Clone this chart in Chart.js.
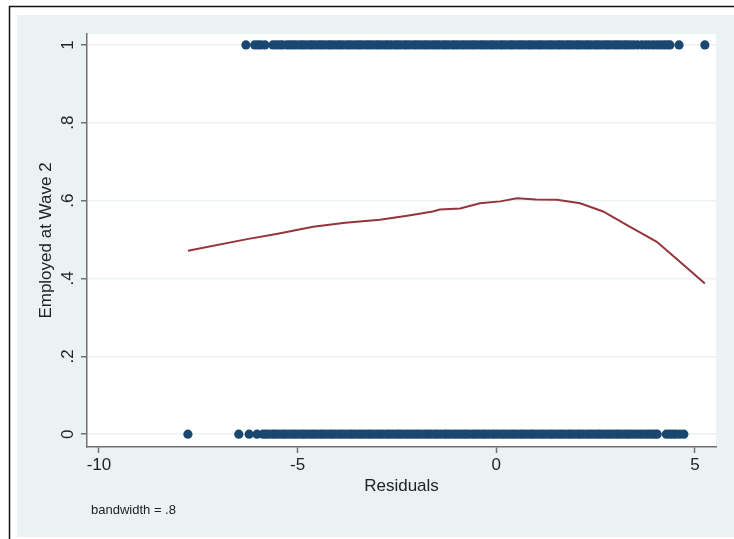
<!DOCTYPE html>
<html>
<head>
<meta charset="utf-8">
<script src="https://cdn.jsdelivr.net/npm/chart.js@4/dist/chart.umd.min.js"></script>
<style>
  body { margin: 0; background: #fff; }
  #wrap { width: 734px; height: 539px; }
</style>
</head>
<body>
<div id="wrap"><canvas id="lowessChart" width="734" height="539"></canvas></div>
<script>
// residuals for people employed at wave 2 (y = 1)
var employedX = [-6.30, -6.08, -6.00, -5.92, -5.82, -5.62, -5.54, -5.45, -5.38,
  -5.27, -5.19, -5.12, -5.04, -4.95, -4.88, -4.80, -4.71, -4.64, -4.56, -4.47, -4.40, -4.32, -4.23,
  -4.16, -4.08, -3.99, -3.92, -3.84, -3.75, -3.68, -3.60, -3.51, -3.44, -3.36, -3.27, -3.20, -3.12,
  -3.03, -2.96, -2.88, -2.79, -2.72, -2.64, -2.55, -2.48, -2.40, -2.31, -2.24, -2.16, -2.07, -2.00,
  -1.92, -1.83, -1.76, -1.68, -1.59, -1.52, -1.44, -1.35, -1.28, -1.20, -1.11, -1.04, -0.96, -0.87,
  -0.80, -0.72, -0.63, -0.56, -0.48, -0.39, -0.32, -0.24, -0.15, -0.08, 0.00, 0.09, 0.16, 0.24,
  0.33, 0.40, 0.48, 0.57, 0.64, 0.72, 0.81, 0.88, 0.96, 1.05, 1.12, 1.20, 1.29, 1.36, 1.44, 1.53,
  1.60, 1.68, 1.77, 1.84, 1.92, 2.01, 2.08, 2.16, 2.25, 2.32, 2.40, 2.49, 2.56, 2.64, 2.73, 2.80,
  2.88, 2.97, 3.04, 3.12, 3.21, 3.28, 3.36, 3.45, 3.55, 3.66, 3.76, 3.85, 3.95, 4.04, 4.13, 4.22,
  4.30, 4.37, 4.60, 5.25];
// residuals for people not employed at wave 2 (y = 0)
var notEmployedX = [-7.76, -6.48, -6.22, -6.02, -5.87,
  -5.80, -5.72, -5.63, -5.56, -5.48, -5.39, -5.32, -5.24, -5.15, -5.08, -5.00, -4.91, -4.84, -4.76,
  -4.67, -4.60, -4.52, -4.43, -4.36, -4.28, -4.19, -4.12, -4.04, -3.95, -3.88, -3.80, -3.71, -3.64,
  -3.56, -3.47, -3.40, -3.32, -3.23, -3.16, -3.08, -2.99, -2.92, -2.84, -2.75, -2.68, -2.60, -2.51,
  -2.44, -2.36, -2.27, -2.20, -2.12, -2.03, -1.96, -1.88, -1.79, -1.72, -1.64, -1.55, -1.48, -1.40,
  -1.31, -1.24, -1.16, -1.07, -1.00, -0.92, -0.83, -0.76, -0.68, -0.59, -0.52, -0.44, -0.35, -0.28,
  -0.20, -0.11, -0.04, 0.04, 0.13, 0.20, 0.28, 0.37, 0.44, 0.52, 0.61, 0.68, 0.76, 0.85, 0.92, 1.00,
  1.09, 1.16, 1.24, 1.33, 1.40, 1.48, 1.57, 1.64, 1.72, 1.81, 1.88, 1.96, 2.05, 2.12, 2.20, 2.29,
  2.36, 2.44, 2.53, 2.60, 2.68, 2.77, 2.84, 2.92, 3.01, 3.08, 3.16, 3.25, 3.32, 3.40, 3.49, 3.58,
  3.66, 3.75, 3.83, 3.91, 3.99, 4.05, 4.28, 4.36, 4.44, 4.52, 4.62, 4.72];
// lowess smooth, bandwidth .8
var lowessX = [-7.76, -6.27, -5.5, -4.61, -3.8, -2.93, -2.2, -1.6, -1.42, -0.91, -0.41, 0.1, 0.52, 1.0, 1.53, 2.11, 2.69, 3.29, 4.04, 4.6, 5.25];
var lowessY = [0.471, 0.501, 0.515, 0.533, 0.543, 0.551, 0.562, 0.572, 0.577, 0.580, 0.593, 0.598, 0.606, 0.603, 0.602, 0.593, 0.572, 0.537, 0.494, 0.445, 0.387];

var xTicks = [-10, -5, 0, 5];
var yTicks = [0, 0.2, 0.4, 0.6, 0.8, 1];
var yTickLabels = ['0', '.2', '.4', '.6', '.8', '1'];

var navy = '#1a476f';
var maroon = '#93363c';
var axisGrey = '#707070';
var font = '"Liberation Sans", Arial, sans-serif';

var pts1 = employedX.map(function (x) { return { x: x, y: 1 }; });
var pts0 = notEmployedX.map(function (x) { return { x: x, y: 0 }; });
var smooth = lowessX.map(function (x, i) { return { x: x, y: lowessY[i] }; });

var stataFrame = {
    id: 'stataFrame',
    beforeDraw: function (chart) {
        var c = chart.ctx, a = chart.chartArea;
        c.save();
        c.fillStyle = '#ffffff';
        c.fillRect(0, 0, chart.width, chart.height);
        c.fillStyle = '#eaf2f3';
        c.fillRect(17, 15, chart.width - 17, 522);
        c.strokeStyle = '#111';
        c.lineWidth = 1.5;
        c.beginPath();
        c.moveTo(9.5, chart.height);
        c.lineTo(9.5, 6.5);
        c.lineTo(chart.width, 6.5);
        c.stroke();
        c.fillStyle = '#ffffff';
        c.fillRect(a.left, a.top, a.right - a.left, a.bottom - a.top);
        c.restore();
    },
    afterDraw: function (chart) {
        var c = chart.ctx, a = chart.chartArea, ys = chart.scales.y;
        c.save();
        c.fillStyle = '#222';
        c.font = '17px ' + font;
        c.textAlign = 'center';
        c.textBaseline = 'middle';
        // rotated y tick labels
        yTicks.forEach(function (v, i) {
            c.save();
            c.translate(68, ys.getPixelForValue(v));
            c.rotate(-Math.PI / 2);
            c.fillText(yTickLabels[i], 0, 0);
            c.restore();
        });
        // axis titles
        c.save();
        c.translate(46, (a.top + a.bottom) / 2);
        c.rotate(-Math.PI / 2);
        c.fillText('Employed at Wave 2', 0, 0);
        c.restore();
        c.fillText('Residuals', (a.left + a.right) / 2, 486);
        // note
        c.textAlign = 'left';
        c.font = '13px ' + font;
        c.fillText('bandwidth = .8', 91, 510);
        c.restore();
    }
};

var ctx = document.getElementById('lowessChart').getContext('2d');
var myChart = new Chart(ctx, {
    type: 'scatter',
    data: {
        datasets: [{
            label: 'Employed at Wave 2',
            data: pts1.concat(pts0),
            backgroundColor: navy,
            borderWidth: 0,
            pointRadius: 4.6,
            order: 2
        }, {
            type: 'line',
            label: 'lowess',
            data: smooth,
            borderColor: maroon,
            borderWidth: 2,
            pointRadius: 0,
            tension: 0,
            fill: false,
            order: 1
        }]
    },
    options: {
        responsive: false,
        animation: false,
        devicePixelRatio: 1,
        layout: { padding: { top: 34, right: 18, left: 0, bottom: 0 } },
        plugins: {
            legend: { display: false },
            tooltip: { enabled: false }
        },
        scales: {
            x: {
                type: 'linear',
                min: -10.3,
                max: 5.53,
                afterFit: function (s) { s.height = 92; },
                afterBuildTicks: function (s) { s.ticks = xTicks.map(function (v) { return { value: v }; }); },
                grid: { drawOnChartArea: false, tickLength: 6, tickColor: axisGrey, tickWidth: 1.5 },
                border: { color: axisGrey, width: 1.5 },
                ticks: {
                    color: '#222',
                    font: { family: font, size: 17 },
                    padding: 2,
                    maxRotation: 0,
                    callback: function (v) { return String(v); }
                }
            },
            y: {
                min: -0.033,
                max: 1.028,
                afterFit: function (s) { s.width = 87; },
                afterBuildTicks: function (s) { s.ticks = yTicks.map(function (v) { return { value: v }; }); },
                grid: { color: '#eaf2f3', lineWidth: 1.5, tickLength: 6, tickColor: axisGrey, tickWidth: 1.5 },
                border: { color: axisGrey, width: 1.5 },
                ticks: { display: false }
            }
        }
    },
    plugins: [stataFrame]
});
</script>
</body>
</html>
